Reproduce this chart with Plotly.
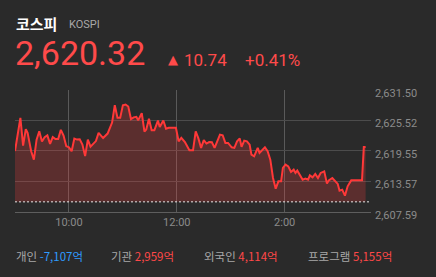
import pandas as pd
import plotly.graph_objects as go

# ---------------- data ----------------
times = [
    "09:00", "09:06", "09:09", "09:12", "09:14", "09:18", "09:21", "09:24", "09:27", "09:30",
    "09:33", "09:36", "09:39", "09:42", "09:45", "09:48", "09:51", "09:54", "09:57", "10:00",
    "10:03", "10:06", "10:09", "10:12", "10:15", "10:18", "10:21", "10:24", "10:27", "10:30",
    "10:33", "10:38", "10:43", "10:48", "10:51", "10:54", "10:57", "11:00", "11:03", "11:06",
    "11:09", "11:12", "11:15", "11:17", "11:21", "11:24", "11:26", "11:29", "11:32", "11:35",
    "11:39", "11:41", "11:45", "11:48", "11:51", "11:59", "12:02", "12:05", "12:09", "12:14",
    "12:18", "12:21", "12:24", "12:27", "12:30", "12:33", "12:36", "12:39", "12:42", "12:45",
    "12:48", "12:51", "12:54", "12:57", "13:01", "13:04", "13:07", "13:10", "13:12", "13:15",
    "13:18", "13:21", "13:23", "13:26", "13:30", "13:32", "13:36", "13:38", "13:41", "13:44",
    "13:47", "13:50", "13:53", "13:56", "13:58", "14:01", "14:04", "14:07", "14:10", "14:12",
    "14:14", "14:17", "14:20", "14:23", "14:26", "14:28", "14:31", "14:34", "14:37", "14:40",
    "14:44", "14:47", "14:49", "14:53", "14:56", "14:59", "15:01", "15:04", "15:07", "15:10",
    "15:14", "15:26", "15:28", "15:30",
]
values = [
    2619.53, 2626.04, 2620.60, 2623.84, 2623.10, 2619.49, 2617.86, 2621.78, 2623.41, 2621.39,
    2622.27, 2622.61, 2620.94, 2622.27, 2621.88, 2621.88, 2623.69, 2622.57, 2620.51, 2620.27,
    2619.49, 2621.98, 2621.78, 2621.84, 2620.80, 2618.54, 2621.78, 2620.41, 2620.94, 2621.49,
    2623.10, 2622.08, 2622.96, 2625.12, 2628.52, 2626.04, 2626.04, 2628.52, 2628.65, 2628.26,
    2625.81, 2626.14, 2626.24, 2625.55, 2626.95, 2623.35, 2623.75, 2625.87, 2623.61, 2623.61,
    2625.51, 2624.24, 2625.51, 2623.90, 2624.08, 2624.10, 2621.45, 2622.12, 2621.29, 2619.68,
    2619.68, 2623.41, 2622.02, 2620.15, 2621.68, 2621.00, 2621.29, 2621.25, 2620.15, 2621.45,
    2622.76, 2622.63, 2621.13, 2621.13, 2620.27, 2620.15, 2621.45, 2621.98, 2620.35, 2621.59,
    2621.45, 2620.80, 2618.84, 2618.50, 2620.15, 2619.17, 2619.82, 2620.27, 2619.53, 2617.86,
    2614.26, 2612.16, 2613.60, 2613.60, 2616.23, 2616.87, 2616.54, 2615.44, 2615.89, 2615.25,
    2615.70, 2614.91, 2613.93, 2614.13, 2613.93, 2614.77, 2614.38, 2615.05, 2614.26, 2615.25,
    2615.56, 2613.15, 2613.79, 2614.26, 2613.60, 2613.09, 2611.77, 2611.97, 2610.79, 2612.62,
    2613.79, 2613.79, 2620.32, 2620.32,
]
prev_close = 2609.58
y_ticks = [2607.59, 2613.57, 2619.55, 2625.52, 2631.50]
x_tick_times = ["10:00", "12:00", "14:00"]
x_tick_labels = ["10:00", "12:00", "2:00"]
x_range_times = ["09:00", "15:36"]

index_name = "코스피"
index_code = "KOSPI"
last_price = "2,620.32"
change = "10.74"
change_pct = "+0.41%"
investors = ["개인", "기관", "외국인", "프로그램"]
investor_amounts = ["-7,107억", "2,959억", "4,114억", "5,155억"]
investor_colors = ["#2f9bff", "#ff4848", "#ff4848", "#ff4848"]

# ---------------- styles ----------------
DAY = "2024-01-02 "
BG = "#2a2a2a"
RED = "#ff3838"
TXT_RED = "#ff4a4a"
GRAY = "#8a8a8a"
FONT = "Roboto, 'Noto Sans CJK KR', sans-serif"
KFONT = "'Noto Sans CJK KR', Roboto, sans-serif"

W, H = 436, 277
ML, MR, MT, MB = 15, 65, 90, 65
PW, PH = W - ML - MR, H - MT - MB


def px_x(px):
    return (px - ML) / PW


def px_y(py):
    return (H - MB - py) / PH


x = pd.to_datetime([DAY + t for t in times])

fig = go.Figure()
fig.add_trace(go.Scatter(x=x, y=[prev_close] * len(x), mode="lines",
                         line=dict(width=0, color="rgba(0,0,0,0)"),
                         hoverinfo="skip", showlegend=False))
fig.add_trace(go.Scatter(x=x, y=values, mode="lines", fill="tonexty",
                         fillcolor="rgba(255,60,60,0.23)",
                         line=dict(color=RED, width=2),
                         showlegend=False))

fig.add_shape(type="line", xref="paper", yref="y", x0=0, x1=1,
              y0=prev_close, y1=prev_close,
              line=dict(color="#e8e8e8", width=1, dash="2px,2px"))

annotations = [
    dict(text="<b>" + index_name + "</b>", x=px_x(14), y=px_y(23.5),
         font=dict(size=15, color="#ffffff", family=KFONT)),
    dict(text=index_code, x=px_x(67), y=px_y(24),
         font=dict(size=11, color="#a8a8a8", family=FONT)),
    dict(text=last_price, x=px_x(13), y=px_y(53),
         font=dict(size=34, color=TXT_RED, family=FONT)),
    dict(text="▲", x=px_x(166), y=px_y(60),
         font=dict(size=13, color=TXT_RED, family="DejaVu Sans")),
    dict(text=change, x=px_x(182), y=px_y(59.5),
         font=dict(size=17, color=TXT_RED, family=FONT)),
    dict(text=change_pct, x=px_x(243), y=px_y(59.5),
         font=dict(size=17, color=TXT_RED, family=FONT)),
]
inv_x = [14, 109, 202, 306]
for name, amt, col, px in zip(investors, investor_amounts, investor_colors, inv_x):
    annotations.append(dict(
        text=name + " <span style='color:" + col + "'>" + amt + "</span>",
        x=px_x(px), y=px_y(256),
        font=dict(size=11.5, color="#a8a8a8", family=KFONT)))
for a in annotations:
    a.update(xref="paper", yref="paper", xanchor="left", yanchor="middle",
             showarrow=False)

fig.update_layout(
    width=W, height=H, autosize=False,
    margin=dict(l=ML, r=MR, t=MT, b=MB),
    paper_bgcolor=BG, plot_bgcolor=BG,
    annotations=annotations,
    xaxis=dict(
        type="date",
        range=[DAY + x_range_times[0], DAY + x_range_times[1]],
        tickvals=[DAY + t for t in x_tick_times],
        ticktext=x_tick_labels,
        showgrid=True, gridcolor="#5a5a5a", gridwidth=1,
        showline=True, linecolor="#5e5e5e", linewidth=1,
        ticks="", zeroline=False,
        tickfont=dict(size=11, color=GRAY, family=FONT),
        fixedrange=True,
    ),
    yaxis=dict(
        side="right",
        range=[y_ticks[0], y_ticks[-1]],
        tickvals=y_ticks,
        ticktext=[f"{v:,.2f}" for v in y_ticks],
        showgrid=True, gridcolor="#4c4c4c", gridwidth=1,
        zeroline=False, ticks="",
        ticklabelstandoff=3, ticklabelshift=3,
        tickfont=dict(size=11, color=GRAY, family=FONT),
        fixedrange=True,
    ),
)

fig.write_html("out.html", config={"displayModeBar": False})
